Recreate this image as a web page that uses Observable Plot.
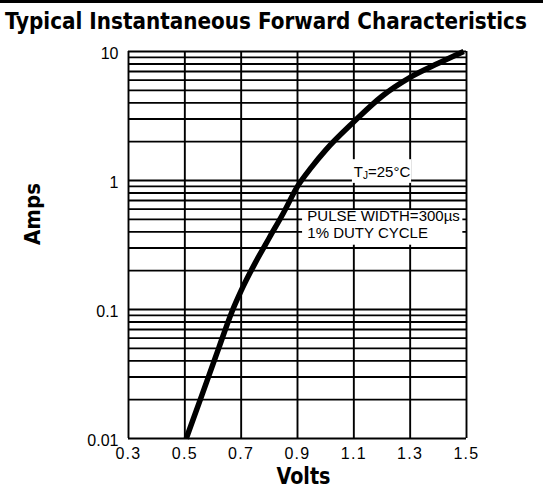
<!DOCTYPE html>
<html><head><meta charset="utf-8">
<script src="https://cdn.jsdelivr.net/npm/d3@7"></script>
<script src="https://cdn.jsdelivr.net/npm/@observablehq/plot@0.6"></script>
<style>
body{margin:0;background:#fff;}
#wrap{width:543px;height:493px;overflow:hidden;background:#fff;}
#bar{height:3px;background:#000;}
svg{display:block;}
</style></head><body>
<div id="wrap"><div id="bar"></div><div id="head"></div><div id="chart"></div></div>
<script>
// ---- data ----
const title = "Typical Instantaneous Forward Characteristics";
const xLabel = "Volts";
const yLabel = "Amps";
const volts = [0.505, 0.56, 0.62, 0.668, 0.7, 0.75, 0.8, 0.85, 0.9, 0.95, 1.0, 1.1, 1.2, 1.3, 1.4, 1.49];
const amps  = [0.01, 0.0215, 0.05, 0.097, 0.14, 0.23, 0.36, 0.56, 0.9, 1.27, 1.72, 2.85, 4.5, 6.3, 8.1, 10];
const xTicks = [0.3, 0.5, 0.7, 0.9, 1.1, 1.3, 1.5];
const yTicks = [0.01, 0.1, 1, 10];
const yDecades = [0.01, 0.1, 1];
const yMinorSteps = [1, 2, 3, 4, 5, 6, 7, 8, 9];
// annotation texts and their anchor positions (data units)
const noteTemp = "TJ=25°C";
const noteTempAt = [1.2, 1.15];
const notePulse = ["PULSE WIDTH=300µs", "1% DUTY CYCLE"];
const notePulseX = 0.935;
const notePulseY = [0.526, 0.388];
// white label boxes behind the notes (data units)
const boxX1 = [1.095, 0.918];
const boxX2 = [1.305, 1.487];
const boxY1 = [0.95, 0.315];
const boxY2 = [1.45, 0.585];

// ---- build ----
const boldFont = "'DejaVu Sans', sans-serif";
const font = "'Liberation Sans', Arial, Helvetica, sans-serif";

const head = d3.select("#head").append("svg").attr("width", 543).attr("height", 40);
const ttl = head.append("text")
  .attr("x", 0).attr("y", 26)
  .attr("font-family", boldFont).style("font-stretch", "condensed")
  .attr("font-weight", "bold").attr("font-size", 22.5)
  .text(title);
{
  const w = ttl.node().getComputedTextLength();
  ttl.attr("transform", `translate(5,0) scale(${522 / w},1)`);
}

const curve = volts.map((v, i) => ({v, a: amps[i]}));
const gridY = yDecades.flatMap(d => yMinorSteps.map(k => d * k)).concat([10]);
const boxes = boxX1.map((x1, i) => ({x1, x2: boxX2[i], y1: boxY1[i], y2: boxY2[i]}));
const pulse = notePulse.map((t, i) => ({t, x: notePulseX, y: notePulseY[i]}));

const chart = Plot.plot({
  width: 543,
  height: 450,
  marginTop: 8,
  marginBottom: 55,
  marginLeft: 128,
  marginRight: 77,
  style: {fontFamily: font, background: "#fff", color: "#000"},
  x: {domain: [0.3, 1.5]},
  y: {type: "log", domain: [0.01, 10]},
  marks: [
    Plot.ruleY(gridY, {stroke: "#000", strokeWidth: 1.9}),
    Plot.ruleX(xTicks, {stroke: "#000", strokeWidth: 1.9}),
    Plot.rect(boxes, {x1: "x1", x2: "x2", y1: "y1", y2: "y2", fill: "#fff"}),
    Plot.line(curve, {x: "v", y: "a", stroke: "#000", strokeWidth: 5.5, curve: "monotone-x", strokeLinecap: "butt"}),
    Plot.text([noteTemp], {x: () => noteTempAt[0], y: () => noteTempAt[1], text: d => d, fontSize: 15, fontFamily: font, fill: "#000"}),
    Plot.text(pulse, {x: "x", y: "y", text: "t", textAnchor: "start", fontSize: 15, fontFamily: font, fill: "#000"}),
    Plot.axisX(xTicks, {tickSize: 0, tickPadding: 9, fontSize: 16, label: null, tickFormat: d => d.toFixed(1)}),
    Plot.axisY(yTicks, {tickSize: 0, tickPadding: 10, dy: 2, fontSize: 16, label: null, tickFormat: d => String(d)}),
    Plot.text([xLabel], {frameAnchor: "bottom", dx: 6, dy: 45, text: d => d, fontSize: 23, fontWeight: "bold", fontFamily: boldFont, fill: "#000"}),
    Plot.text([yLabel], {frameAnchor: "left", dx: -96, rotate: -90, text: d => d, fontSize: 22, fontWeight: "bold", fontFamily: boldFont, fill: "#000"})
  ]
});
document.getElementById("chart").appendChild(chart);

// fit the bold labels to the reference widths and set the J subscript
const svg = d3.select(chart);
svg.selectAll('g[aria-label="x-axis tick label"] text').style("letter-spacing", "1.3px");
svg.selectAll("text").each(function() {
  const t = this.textContent;
  if (t === xLabel) d3.select(this).attr("textLength", 54).attr("lengthAdjust", "spacingAndGlyphs").style("font-stretch", "condensed");
  if (t === yLabel) d3.select(this).attr("textLength", 62).attr("lengthAdjust", "spacingAndGlyphs").style("font-stretch", "condensed");
  if (t === noteTemp) {
    const el = d3.select(this);
    el.text(null);
    el.append("tspan").text("T");
    el.append("tspan").attr("font-size", 10).attr("dy", 2).text("J");
    el.append("tspan").attr("dy", -2).text("=25°C");
  }
});
</script>
</body></html>
